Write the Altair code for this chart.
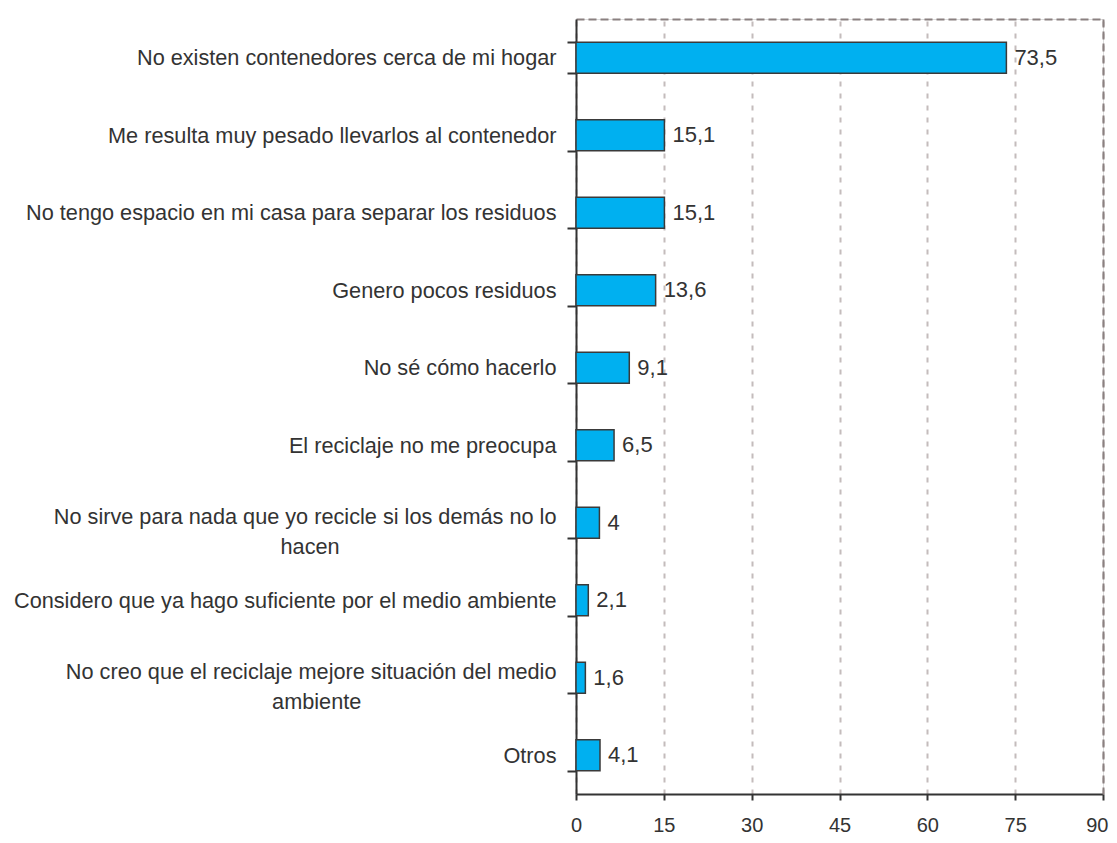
import altair as alt
import pandas as pd

categories = [
    "No existen contenedores cerca de mi hogar",
    "Me resulta muy pesado llevarlos al contenedor",
    "No tengo espacio en mi casa para separar los residuos",
    "Genero pocos residuos",
    "No sé cómo hacerlo",
    "El reciclaje no me preocupa",
    "No sirve para nada que yo recicle si los demás no lo|hacen",
    "Considero que ya hago suficiente por el medio ambiente",
    "No creo que el reciclaje mejore situación del medio|ambiente",
    "Otros",
]
values = [73.5, 15.1, 15.1, 13.6, 9.1, 6.5, 4, 2.1, 1.6, 4.1]
value_labels = ["73,5", "15,1", "15,1", "13,6", "9,1", "6,5", "4", "2,1", "1,6", "4,1"]
x_ticks = [0, 15, 30, 45, 60, 75, 90]

SP = "\u2002"
END = "\u2060"
pad_counts = {"hacen": 20, "ambiente": 18}

df = pd.DataFrame({"cat": categories, "value": values, "label": value_labels})

FONT = "Liberation Sans"
TXT = "#333333"
BORDER = "#8a8080"

label_expr = (
    "indexof(datum.label, '|') >= 0 ? "
    "[split(datum.label, '|')[0], split(datum.label, '|')[1] + "
    "(split(datum.label, '|')[1] == 'hacen' ? '" + SP * pad_counts["hacen"] + END
    + "' : '" + SP * pad_counts["ambiente"] + END + "')]"
    " : datum.label"
)

y_enc = alt.Y(
    "cat:N",
    sort=categories,
    scale=alt.Scale(paddingInner=0.6, paddingOuter=0.3),
    axis=alt.Axis(
        title=None,
        labelExpr=label_expr,
        labelFont=FONT,
        labelFontSize=21.7,
        labelColor=TXT,
        labelPadding=11,
        labelLimit=0,
        labelLineHeight=30,
        labelOffset={"condition": {"test": "indexof(datum.label, '|') >= 0", "value": -6}, "value": 0},
        tickBand="extent",
        tickSize=9,
        tickColor="#333333",
        tickWidth=2,
        domainColor="#333333",
        domainWidth=2,
        grid=False,
    ),
)

x_enc = alt.X(
    "value:Q",
    scale=alt.Scale(domain=[0, 90], nice=False),
    axis=alt.Axis(
        title=None,
        values=x_ticks,
        labelFont=FONT,
        labelFontSize=20,
        labelColor=TXT,
        labelPadding=15,
        labelFlush=False,
        labelAlign={"condition": {"test": "datum.value == 90", "value": "right"}, "value": "center"},
        labelOffset={"condition": {"test": "datum.value == 90", "value": 5}, "value": 0},
        tickSize=6,
        tickColor="#333333",
        tickWidth=2,
        domainColor="#333333",
        domainWidth=2,
        grid=True,
        gridColor="#c4bcbc",
        gridDash=[5, 7],
        gridWidth=2,
    ),
)

bars = alt.Chart(df).mark_bar(
    color="#00B0F0", stroke="#3a3a3a", strokeWidth=1.5
).encode(x=x_enc, y=y_enc)

texts = alt.Chart(df).mark_text(
    align="left", baseline="middle", dx=8, font=FONT, fontSize=22, color=TXT
).encode(
    x=alt.X(
        "value:Q",
        axis=alt.Axis(orient="top", title=None, labels=False, ticks=False, grid=False,
                      domainColor=BORDER, domainDash=[8, 4], domainWidth=2),
    ),
    y=alt.Y(
        "cat:N",
        sort=categories,
        axis=alt.Axis(orient="right", title=None, labels=False, ticks=False, grid=False,
                      domainColor=BORDER, domainDash=[8, 4], domainWidth=2),
    ),
    text="label:N",
)

chart = (
    alt.layer(bars, texts)
    .resolve_axis(x="independent", y="independent")
    .properties(
        width=527,
        height=775,
        autosize=alt.AutoSizeParams(type="none"),
        padding={"left": 568, "top": 11, "right": 6, "bottom": 41},
    )
    .configure_view(strokeWidth=0)
    .configure(background="white")
)

chart.save("out.html", embed_options={"renderer": "svg", "actions": False})
